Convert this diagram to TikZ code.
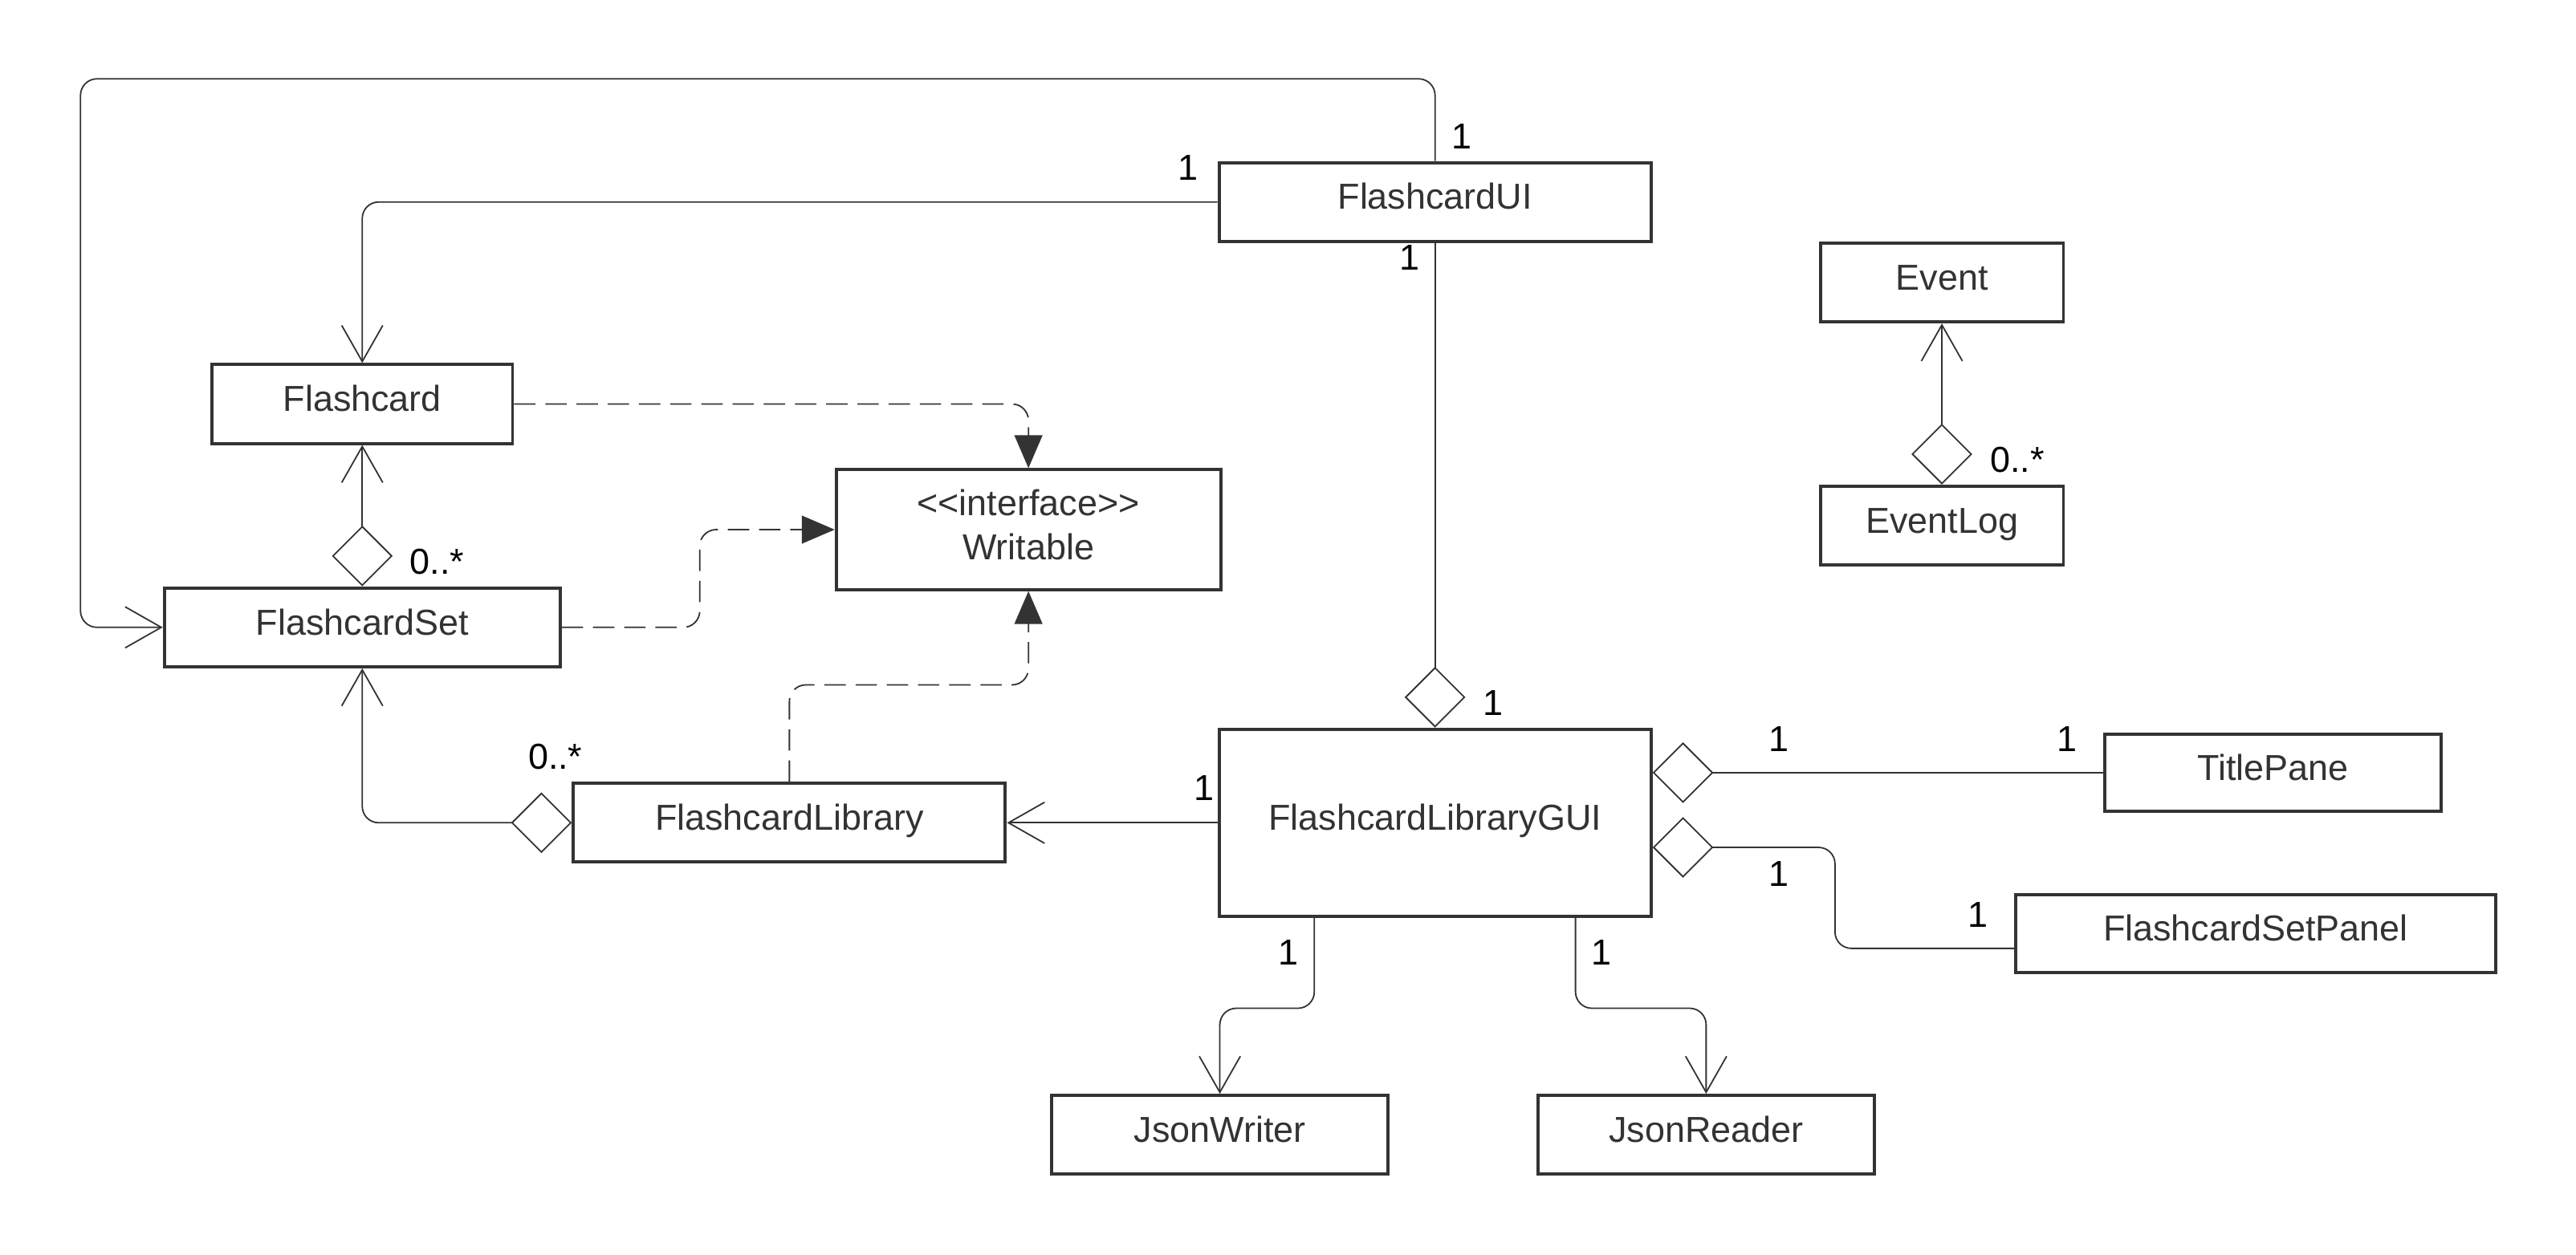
\documentclass[tikz,border=0pt]{standalone}
\usepackage{fontspec}
\setmainfont{Liberation Sans}
\usetikzlibrary{arrows.meta,calc}

\definecolor{umlgray}{HTML}{333333}

\newcommand*{\boxh}{0.96cm}
\newcommand*{\dshort}{0.74cm}

\begin{document}
\begin{tikzpicture}
[
	x=0.02cm, y=-0.02cm,
	font=\fontsize{12.5}{15.4}\selectfont,
	umlclass/.style={draw=umlgray,line width=1.1pt,text=umlgray,fill=white,
		minimum height=\boxh,inner sep=2pt,align=center,
		text height=0.32cm,text depth=0.14cm},
	mult/.style={inner sep=0pt,text=black},
	conn/.style={draw=umlgray,line width=0.5pt,rounded corners=0.2cm},
	assoc/.style={conn,-{Straight Barb[length=0.44cm,width=0.5cm]}},
	agg/.style={conn,{Diamond[length=\dshort,width=\dshort,fill=white]}-{Straight Barb[length=0.44cm,width=0.5cm]}},
	aggline/.style={conn,{Diamond[length=\dshort,width=\dshort,fill=white]}-},
	realize/.style={conn,dash pattern=on 0.26cm off 0.12cm,-{Triangle[length=0.4cm,width=0.34cm]}}
]

	\useasboundingbox (0,0) rectangle (1568,764);

	% classes
	\node[umlclass,minimum width=5.26cm] (fui) at (873.5,123) {FlashcardUI};
	\node[umlclass,minimum width=3.66cm] (fcard) at (220.5,246) {Flashcard};
	\node[umlclass,minimum width=4.68cm,minimum height=1.46cm,text height=,text depth=0.12cm] (writable) at (626,322.5) {{<}{<}interface{>}{>}\\Writable};
	\node[umlclass,minimum width=4.82cm] (fset) at (220.5,382) {FlashcardSet};
	\node[umlclass,minimum width=5.26cm] (flib) at (480.5,501) {FlashcardLibrary};
	\node[umlclass,minimum width=5.26cm,minimum height=2.28cm] (gui) at (873.5,501) {FlashcardLibraryGUI};
	\node[umlclass,minimum width=2.96cm] (event) at (1182,172) {Event};
	\node[umlclass,minimum width=2.96cm] (elog) at (1182,320) {EventLog};
	\node[umlclass,minimum width=4.10cm,minimum height=0.94cm] (tpane) at (1383.5,470.5) {TitlePane};
	\node[umlclass,minimum width=5.84cm,minimum height=0.94cm] (fspanel) at (1373,568.5) {FlashcardSetPanel};
	\node[umlclass,minimum width=4.10cm] (jwriter) at (742.5,691) {JsonWriter};
	\node[umlclass,minimum width=4.10cm] (jreader) at (1038.5,691) {JsonReader};

	% associations
	\coordinate (farleft) at (49,48);
	\draw[assoc] (fui.north) |- (farleft) |- (fset.west);
	\draw[assoc] (fui.west) -| (fcard.north);
	\draw[assoc] (gui.west) -- (flib.east);
	\draw[assoc] ([xshift=-1.47cm]gui.south) -- ++(0,55) -| (jwriter.north);
	\draw[assoc] ([xshift=1.71cm]gui.south) -- ++(0,55) -| (jreader.north);

	% aggregations
	\draw[aggline] (gui.north) -- (fui.south);
	\draw[agg] (fset.north) -- (fcard.south);
	\draw[agg] (flib.west) -| (fset.south);
	\draw[agg] (elog.north) -- (event.south);
	\draw[aggline] (tpane.west -| gui.east) -- (tpane.west);
	\draw[aggline] ([yshift=-0.3cm]gui.east) -- ++(111,0) |- ([yshift=-0.18cm]fspanel.west);

	% realizations
	\draw[realize] (fcard.east) -| (writable.north);
	\draw[realize] (fset.east) -- ++(84,0) |- (writable.west);
	\draw[realize] (flib.north) -- ++(0,-59) -| (writable.south);

	% multiplicities
	\node[mult] (m1) at (890,83) {1};
	\node[mult] (m2) at (723,102) {1};
	\node[mult] (m3) at (858,157) {1};
	\node[mult] (m4) at (909,428) {1};
	\node[mult] (m5) at (266,342) {0..*};
	\node[mult] (m6) at (338,461) {0..*};
	\node[mult] (m7) at (733,480) {1};
	\node[mult] (m8) at (1083,450) {1};
	\node[mult] (m9) at (1258,450) {1};
	\node[mult] (m10) at (1083,532) {1};
	\node[mult] (m11) at (1204,557) {1};
	\node[mult] (m12) at (784,580) {1};
	\node[mult] (m13) at (975,580) {1};
	\node[mult] (m14) at (1228,280) {0..*};

\end{tikzpicture}
\end{document}
